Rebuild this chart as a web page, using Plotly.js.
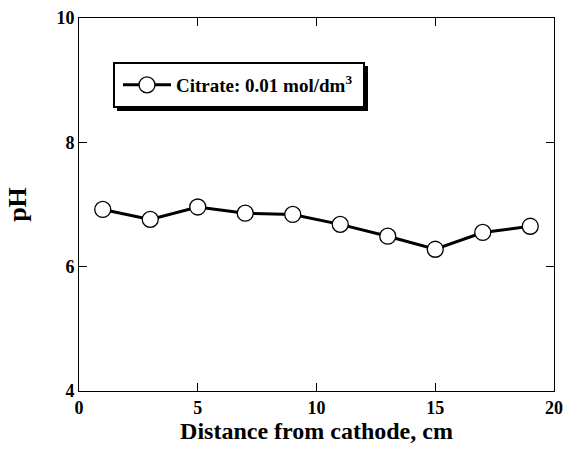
<!DOCTYPE html>
<html><head><meta charset="utf-8">
<script src="https://cdn.plot.ly/plotly-3.0.1.min.js"></script>
<style>html,body{margin:0;padding:0;background:#fff}#chart{width:564px;height:454px}</style>
</head><body><div id="chart"></div>
<script>
const distance = [1, 3, 5, 7, 9, 11, 13, 15, 17, 19];
const pH = [6.92, 6.76, 6.96, 6.86, 6.84, 6.68, 6.49, 6.28, 6.55, 6.65];
const seriesName = '<b>Citrate: 0.01 mol/dm<sup>3</sup></b>';
const xTicks = [0, 5, 10, 15, 20];
const yTicks = [4, 6, 8, 10];

const W = 564, H = 454, mL = 79, mR = 10, mT = 18, mB = 63;
const pw = W - mL - mR, ph = H - mT - mB;
const px = v => (v - mL) / pw;
const py = v => (H - mB - v) / ph;

const FAM = 'Liberation Serif, Times New Roman, serif';

const trace = {
  x: distance, y: pH, name: seriesName, type: 'scatter', mode: 'lines+markers',
  line: {color: '#000', width: 3},
  marker: {symbol: 'circle', size: 16, color: '#fff', line: {color: '#000', width: 1.3}}
};

const layout = {
  width: W, height: H,
  margin: {l: mL, r: mR, t: mT, b: mB},
  paper_bgcolor: '#fff', plot_bgcolor: '#fff',
  font: {family: FAM, size: 18, color: '#000', weight: 'bold'},
  showlegend: true,
  xaxis: {
    showgrid: false, zeroline: false, showline: true, linecolor: '#000', linewidth: 1,
    mirror: 'ticks', ticks: 'inside', ticklen: 8, tickwidth: 1, tickcolor: '#000',
    range: [0, 20], tickmode: 'array', tickvals: xTicks, ticktext: xTicks.map(v => '<b>' + v + '</b>'),
    tickfont: {family: FAM, size: 18, color: '#000', weight: 'bold'},
    title: {text: '<b>Distance from cathode, cm</b>', font: {family: FAM, size: 24, color: '#000'}, standoff: 5}
  },
  yaxis: {
    showgrid: false, zeroline: false, showline: true, linecolor: '#000', linewidth: 1,
    mirror: 'ticks', ticks: 'inside', ticklen: 8, tickwidth: 1, tickcolor: '#000',
    range: [4, 10], tickmode: 'array', tickvals: yTicks, ticktext: yTicks.map(v => '<b>' + v + '</b>'),
    tickfont: {family: FAM, size: 18, color: '#000', weight: 'bold'},
    title: {text: '<b>pH</b>', font: {family: FAM, size: 26, color: '#000'}, standoff: 22}
  },
  legend: {
    x: px(118), y: py(85), xanchor: 'left', yanchor: 'middle',
    bgcolor: 'rgba(0,0,0,0)', borderwidth: 0,
    font: {family: FAM, size: 19, color: '#000'},
    itemwidth: 48
  },
  shapes: [
    {type: 'rect', xref: 'paper', yref: 'paper', x0: px(117), x1: px(368), y0: py(66), y1: py(111),
     fillcolor: '#000', line: {width: 0}, layer: 'above'},
    {type: 'rect', xref: 'paper', yref: 'paper', x0: px(114), x1: px(364), y0: py(63), y1: py(107),
     fillcolor: '#fff', line: {color: '#000', width: 2}, layer: 'above'}
  ]
};

Plotly.newPlot('chart', [trace], layout, {displayModeBar: false, staticPlot: true});
</script></body></html>
